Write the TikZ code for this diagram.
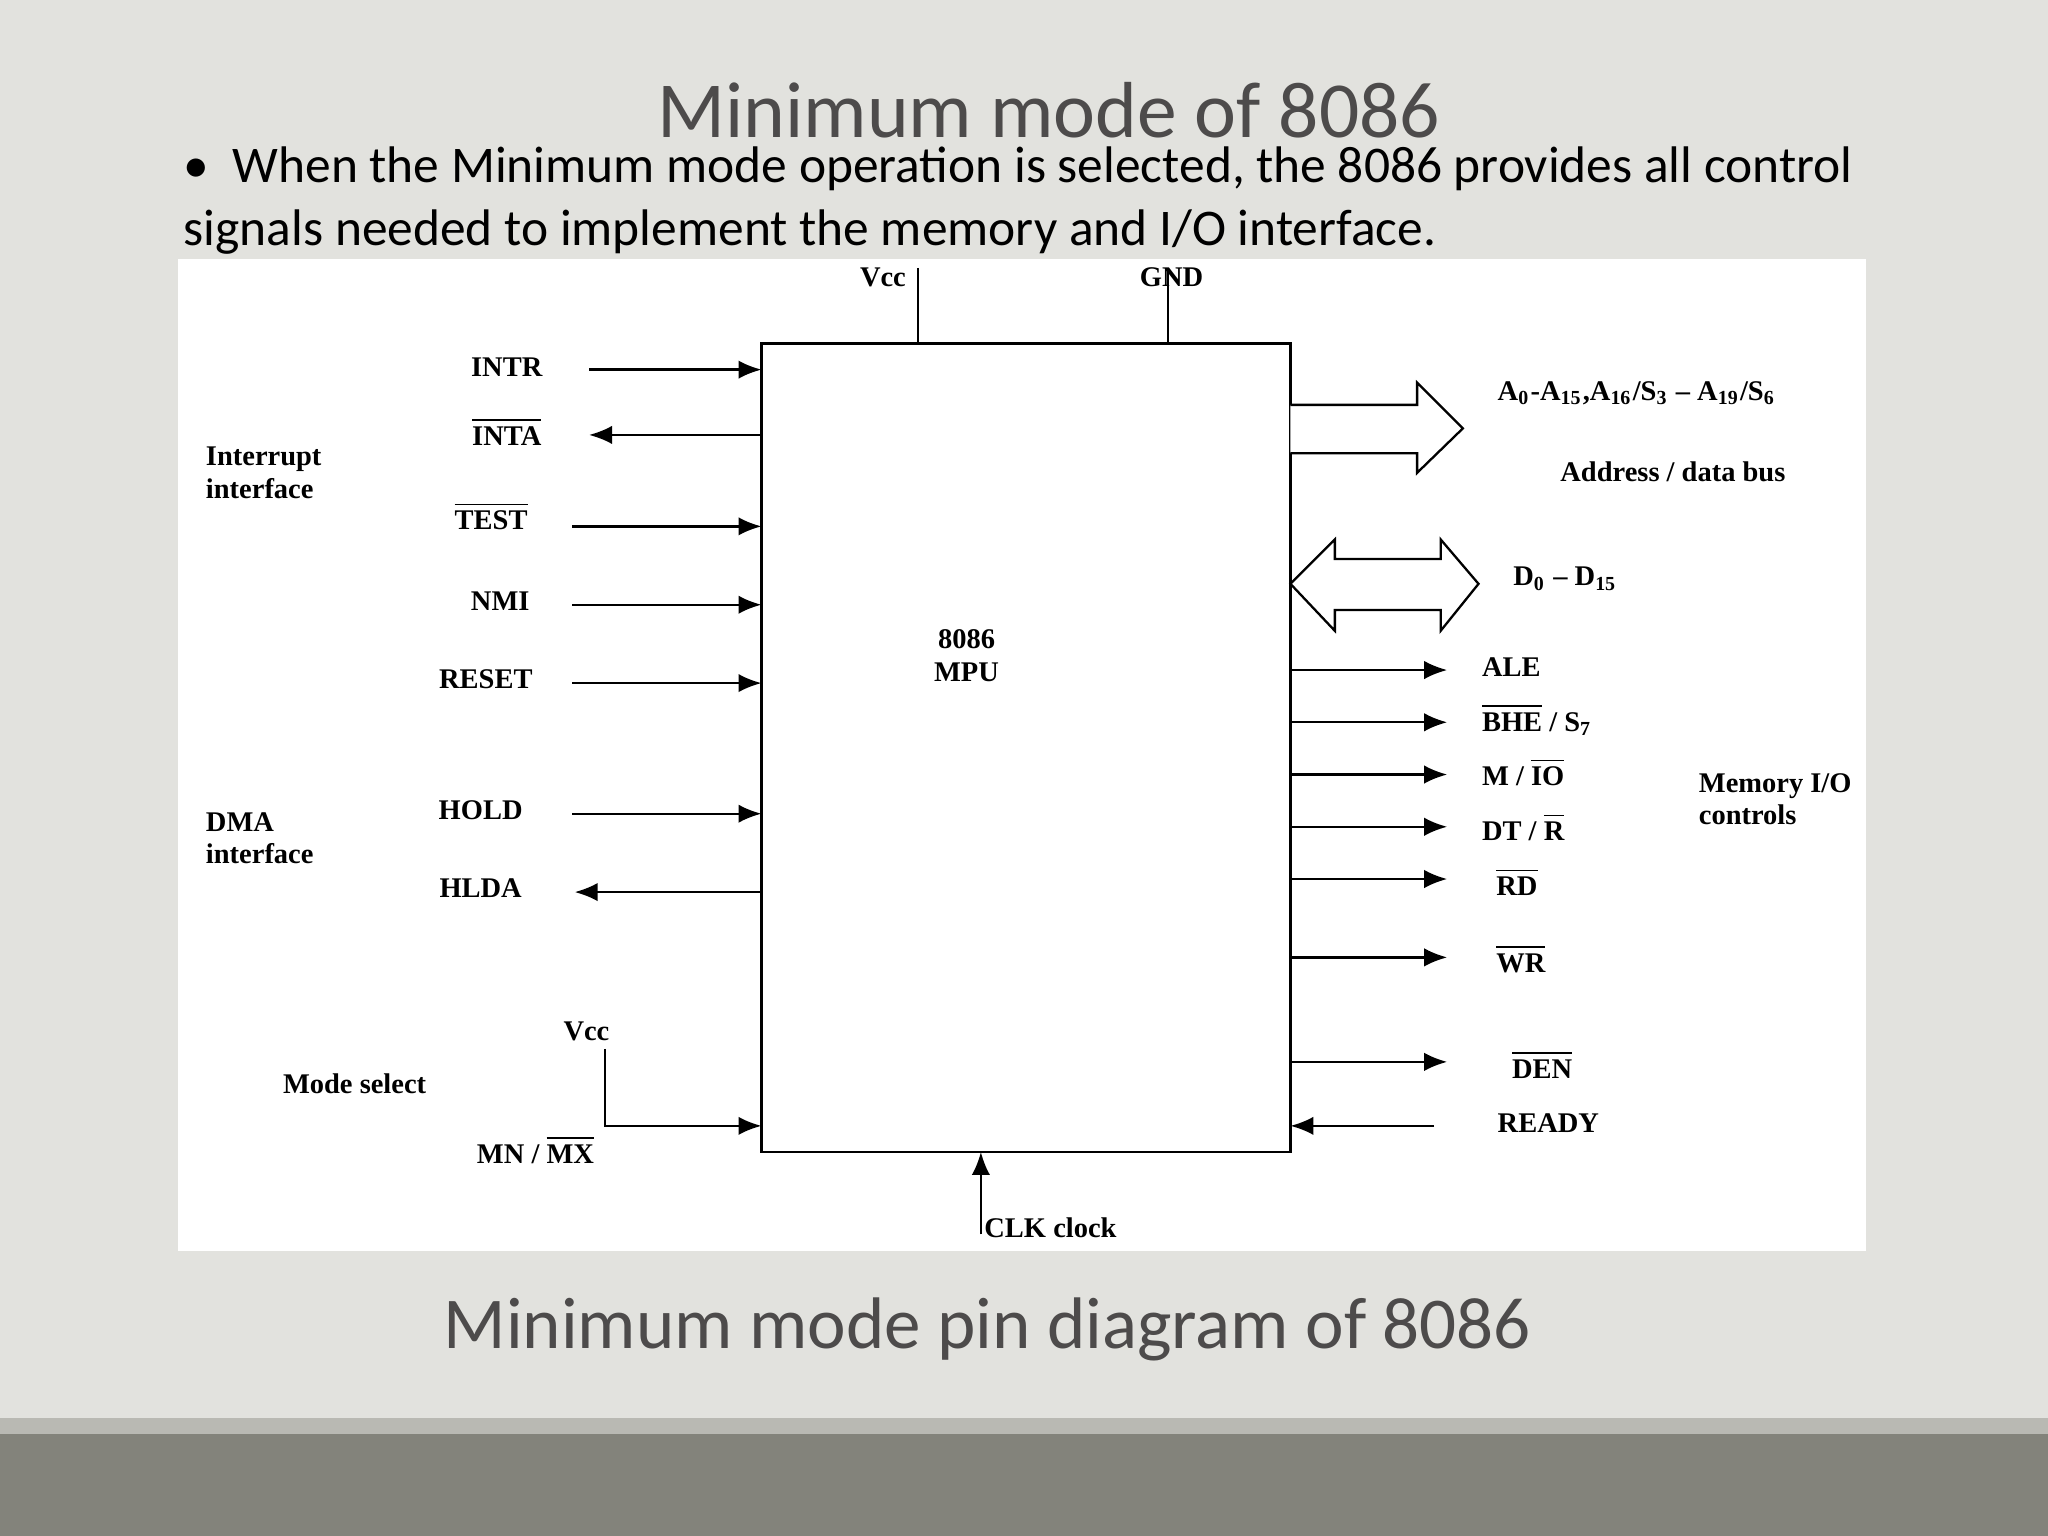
\documentclass[tikz,border=0pt]{standalone}
\usepackage{fontspec}
\setmainfont{Liberation Serif}
\newfontfamily\slidefont{Carlito}
\usetikzlibrary{arrows.meta}
\definecolor{bg}{HTML}{E2E2DE}
\definecolor{band}{HTML}{B9B9B3}
\definecolor{dark}{HTML}{83837B}
\definecolor{ttl}{HTML}{4D4B4B}
\tikzset{
 lbl/.style={font=\bfseries\fontsize{6.2}{7}\selectfont, inner sep=0pt},
 lblL/.style={lbl, anchor=west, align=left},
 sig/.style={-{Latex[length=5pt,width=4pt]}, line width=0.5pt},
 wire/.style={line width=0.5pt},
}
\newcommand{\ol}[1]{$\overline{\mbox{#1}}$}
\newcommand{\sbs}[1]{\textsubscript{#1}}
\begin{document}
\begin{tikzpicture}[x=0.01cm,y=-0.01cm]
\fill[bg] (0,0) rectangle (1568,1176);
\fill[band] (0,1086) rectangle (1568,1098);
\fill[dark] (0,1098) rectangle (1568,1176);
\fill[white] (136,198) rectangle (1429,958);
\node[font=\slidefont\fontsize{17.3}{19}\selectfont, text=ttl] (title) at (803,84) {Minimum mode of 8086};
\node[font=\slidefont\fontsize{11.2}{13.6}\selectfont, anchor=north west, align=left, inner sep=0pt, text=black] (bullet) at (140,112)
 {\textbullet\ \ When the Minimum mode operation is selected, the 8086 provides all control\\signals needed to implement the memory and I/O interface.};
\node[font=\slidefont\fontsize{15.9}{18}\selectfont, text=ttl] (cap) at (756,1018) {Minimum mode pin diagram of 8086};

% MPU
\draw[wire] (583,263) rectangle (988,882);
\node[lbl, align=center] (mpuname) at (740,502) {8086\\MPU};
% Vcc/GND
\node[lbl] (vcc) at (676,212) {Vcc};
\node[lbl] (gnd) at (897,212) {GND};
\coordinate (v1) at (703,205); \coordinate (v2) at (703,263);
\coordinate (g1) at (894,205); \coordinate (g2) at (894,263);
\draw[wire] (v1)--(v2); \draw[wire] (g1)--(g2);

% left labels
\node[lbl] (intr) at (388,281) {INTR};
\node[lbl] (inta) at (388,330) {\ol{INTA}};
\node[lbl] (test) at (376,395) {\ol{TEST}};
\node[lbl] (nmi) at (383,460) {NMI};
\node[lbl] (reset) at (372,520) {RESET};
\node[lbl] (hold) at (368,620) {HOLD};
\node[lbl] (hlda) at (368,680) {HLDA};
\node[lblL] (ii) at (157,362) {Interrupt\\interface};
\node[lblL] (dma) at (157,642) {DMA\\interface};
\node[lblL] (ms) at (216,830) {Mode select};
\node[lbl] (vcc2) at (449,790) {Vcc};
\node[lbl] (mnmx) at (410,880) {MN / \ol{MX}};

\coordinate (a1) at (451,283); \coordinate (b1) at (583,283);
\draw[sig] (a1)--(b1);
\coordinate (a2) at (451,333); \coordinate (b2) at (583,333);
\draw[sig] (b2)--(a2);
\foreach \y in {403,463,523,623}{\coordinate (p) at (438,\y); \coordinate (q) at (583,\y); \draw[sig] (p)--(q);}
\coordinate (a7) at (440,683); \coordinate (b7) at (583,683);
\draw[sig] (b7)--(a7);
\coordinate (m1) at (463,803); \coordinate (m2) at (463,862); \coordinate (m3) at (583,862);
\draw[sig] (m1)--(m2)--(m3);
% CLK
\coordinate (c1) at (751,945); \coordinate (c2) at (751,882);
\draw[sig] (c1)--(c2);
\node[lblL] (clk) at (753,940) {CLK clock};

% address bus arrow
\draw[wire, fill=white] (988,310)--(1085,310)--(1085,293)--(1120,328)--(1085,362)--(1085,347)--(988,347);
\node[lblL] (addr) at (1146,301) {A\sbs{0}-A\sbs{15},A\sbs{16}/S\sbs{3} -- A\sbs{19}/S\sbs{6}};
\node[lblL] (adb) at (1194,361) {Address / data bus};
% data bus double arrow
\draw[wire, fill=white] (988,447)--(1022,413)--(1022,428)--(1103,428)--(1103,413)--(1132,447)--(1103,483)--(1103,467)--(1022,467)--(1022,483)--cycle;
\node[lblL] (dbus) at (1158,443) {D\sbs{0} -- D\sbs{15}};

\foreach \y in {513,553,593,633,673,733,813}{\coordinate (p) at (988,\y); \coordinate (q) at (1108,\y); \draw[sig] (p)--(q);}
\coordinate (r1) at (1098,862); \coordinate (r2) at (988,862);
\draw[sig] (r1)--(r2);
\node[lblL] (ale) at (1134,511) {ALE};
\node[lblL] (bhe) at (1134,551) {\ol{BHE} / S\sbs{7}};
\node[lblL] (mio) at (1134,591) {M / \ol{IO}};
\node[lblL] (dtr) at (1134,633) {DT / \ol{R}};
\node[lblL] (rd) at (1145,675) {\ol{RD}};
\node[lblL] (wr) at (1145,734) {\ol{WR}};
\node[lblL] (den) at (1157,815) {\ol{DEN}};
\node[lblL] (ready) at (1146,860) {READY};
\node[lblL] (mem) at (1300,612) {Memory I/O\\controls};
\end{tikzpicture}
\end{document}
